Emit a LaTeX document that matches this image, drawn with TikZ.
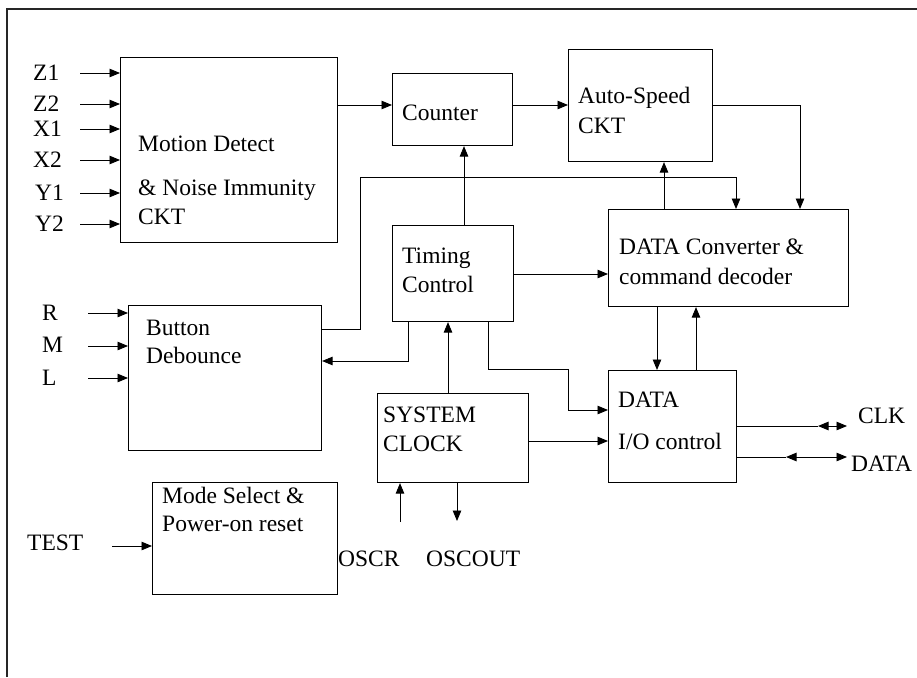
\documentclass[tikz,border=0pt]{standalone}
\usepackage{fontspec}
\setmainfont{Liberation Serif}
\usetikzlibrary{arrows.meta}
\begin{document}
\begin{tikzpicture}[x=1pt,y=-1pt,
  box/.style={draw, line width=1.1pt, inner sep=0pt, anchor=north west},
  txt/.style={anchor=base west, inner sep=0pt, font=\fontsize{23.5}{28}\selectfont},
  arr/.style={line width=0.9pt, -{Triangle[length=10.5pt,width=8.5pt]}},
  barr/.style={line width=0.9pt, {Triangle[length=10.5pt,width=8.5pt]}-{Triangle[length=10.5pt,width=8.5pt]}},
  ln/.style={line width=0.9pt},
  frame/.style={line width=1.8pt, draw=black!85}]
\useasboundingbox (0,0) rectangle (917,677);
% frame
\coordinate (ftl) at (7,9);
\draw[frame] (7,677) -- (ftl) -- (917,9);
% boxes
\node[box, minimum width=217pt, minimum height=185pt] (md) at (120,57) {};
\node[box, minimum width=120pt, minimum height=72pt] (cnt) at (392,73) {};
\node[box, minimum width=144pt, minimum height=112pt] (asp) at (568,49) {};
\node[box, minimum width=240pt, minimum height=97pt] (dc) at (608,209) {};
\node[box, minimum width=121pt, minimum height=96pt] (tc) at (392,225) {};
\node[box, minimum width=193pt, minimum height=145pt] (bd) at (128,305) {};
\node[box, minimum width=151pt, minimum height=89pt] (sc) at (377,393) {};
\node[box, minimum width=128pt, minimum height=112pt] (io) at (608,370) {};
\node[box, minimum width=185pt, minimum height=112pt] (msel) at (152,482) {};
% box texts
\node[txt] (mdt1) at (138,151) {Motion Detect};
\node[txt] (mdt2) at (138,195) {\& Noise Immunity};
\node[txt] (mdt3) at (138,224) {CKT};
\node[txt] (cntt) at (402,120) {Counter};
\node[txt] (aspt1) at (578,103) {Auto-Speed};
\node[txt] (aspt2) at (578,133) {CKT};
\node[txt] (dct1) at (619,254) {DATA Converter \&};
\node[txt] (dct2) at (619,284) {command decoder};
\node[txt] (tct1) at (402,263) {Timing};
\node[txt] (tct2) at (402,292) {Control};
\node[txt] (bdt1) at (146,335) {Button};
\node[txt] (bdt2) at (146,363) {Debounce};
\node[txt] (sct1) at (383,422) {SYSTEM};
\node[txt] (sct2) at (383,451) {CLOCK};
\node[txt] (iot1) at (618,407) {DATA};
\node[txt] (iot2) at (618,449) {I/O control};
\node[txt] (mst1) at (162,503) {Mode Select \&};
\node[txt] (mst2) at (162,531) {Power-on reset};
% input labels
\node[txt] (lz1) at (33,80) {Z1};
\node[txt] (lz2) at (33,111) {Z2};
\node[txt] (lx1) at (33,136) {X1};
\node[txt] (lx2) at (33,167) {X2};
\node[txt] (ly1) at (35,200) {Y1};
\node[txt] (ly2) at (35,231) {Y2};
\node[txt] (lr) at (42,320) {R};
\node[txt] (lm) at (42,352) {M};
\node[txt] (ll) at (42,385) {L};
\node[txt] (ltest) at (27,550) {TEST};
\node[txt] (loscr) at (338,566) {OSCR};
\node[txt] (loscout) at (426,566) {OSCOUT};
\node[txt] (lclk) at (858,423) {CLK};
\node[txt] (ldata) at (851,471) {DATA};
% input arrows
\foreach \n/\yy in {z1/73, z2/104, x1/129, x2/160, y1/193, y2/224}{
  \coordinate (in\n) at (80,\yy);
  \draw[arr] (in\n) -- (in\n -| md.west);
}
\foreach \n/\yy in {r/313, m/346, l/378}{
  \coordinate (in\n) at (88,\yy);
  \draw[arr] (in\n) -- (in\n -| bd.west);
}
\coordinate (intest) at (112,546);
\draw[arr] (intest) -- (intest -| msel.west);
% internal connectors
\draw[arr] (md.east |- 0,105) -- (cnt.west |- 0,105);
\draw[arr] (cnt.east |- 0,105) -- (asp.west |- 0,105);
\draw[arr] (asp.east |- 0,105) -| (dc.north -| 800,0);
\draw[arr] (tc.north -| 464,0) -- (cnt.south -| 464,0);
\draw[arr] (bd.east |- 0,329) -- (360,329) -- (360,177) -| (dc.north -| 736,0);
\draw[arr] (dc.north -| 664,0) -- (asp.south -| 664,0);
\draw[arr] (tc.east |- 0,274) -- (dc.west |- 0,274);
\draw[arr] (tc.south -| 408,0) |- (bd.east |- 0,361);
\draw[arr] (sc.north -| 448,0) -- (tc.south -| 448,0);
\draw[arr] (tc.south -| 488,0) -- (488,369) -- (568,369) -- (568,410) -- (io.west |- 0,410);
\draw[arr] (sc.east |- 0,441) -- (io.west |- 0,441);
\draw[arr] (dc.south -| 657,0) -- (io.north -| 657,0);
\draw[arr] (io.north -| 696,0) -- (dc.south -| 696,0);
% outputs
\coordinate (clka) at (818,426);
\coordinate (clkb) at (847,426);
\draw[ln] (io.east |- clka) -- (clka);
\draw[barr] (clka) -- (clkb);
\coordinate (data) at (786,457);
\coordinate (datb) at (847,457);
\draw[ln] (io.east |- data) -- (data);
\draw[barr] (data) -- (datb);
\coordinate (oscrs) at (400,522);
\draw[arr] (oscrs) -- (oscrs |- sc.south);
\coordinate (oscoute) at (457,521);
\draw[arr] (oscoute |- sc.south) -- (oscoute);
\end{tikzpicture}
\end{document}
